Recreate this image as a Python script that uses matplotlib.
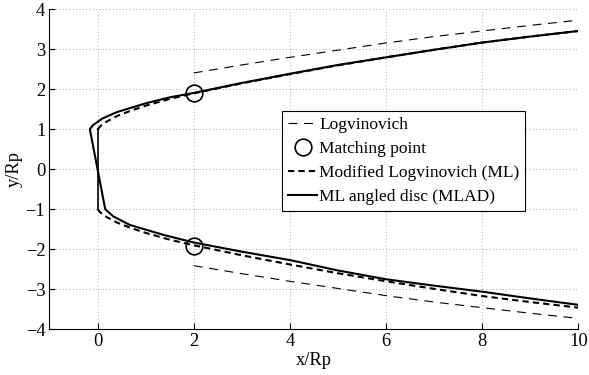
import numpy as np
import matplotlib.pyplot as plt

plt.rcParams['font.family'] = ['Liberation Serif', 'DejaVu Serif']
plt.rcParams['font.size'] = 13.3

# Logvinovich cavity profile (upper half, mirrored for lower)
x_logv = [2, 3, 4, 5, 6, 7, 8, 9, 10]
y_logv = [2.41, 2.61, 2.80, 2.98, 3.16, 3.32, 3.46, 3.60, 3.73]

# Modified Logvinovich (ML), symmetric, disc at x = 0
x_ml = [0, 0.1, 0.2, 0.4, 0.7, 1.0, 1.5, 2, 3, 4, 5, 6, 7, 8, 9, 10]
y_ml = [1.0, 1.13, 1.2, 1.33, 1.47, 1.59, 1.76, 1.9, 2.15, 2.38, 2.6, 2.80, 2.99, 3.17, 3.32, 3.46]

# ML angled disc (MLAD), upper and lower branches
x_mlad_up = [-0.16, -0.1, 0.1, 0.4, 1.0, 1.5, 2, 3, 4, 5, 6, 7, 8, 9, 10]
y_mlad_up = [1.0, 1.1, 1.27, 1.43, 1.65, 1.8, 1.91, 2.16, 2.39, 2.61, 2.80, 2.99, 3.17, 3.32, 3.46]
x_mlad_lo = [0.16, 0.33, 0.67, 1.37, 2, 3, 4, 5, 6, 7, 8, 9, 10]
y_mlad_lo = [-1.0, -1.18, -1.39, -1.64, -1.83, -2.06, -2.27, -2.53, -2.75, -2.91, -3.06, -3.23, -3.39]

# matching points
x_match = [2, 2]
y_match = [1.92, -1.92]

x_logv = np.array(x_logv); y_logv = np.array(y_logv)
x_ml = np.array(x_ml); y_ml = np.array(y_ml)

fig = plt.figure(figsize=(5.89, 3.75), dpi=100)
ax = fig.add_axes([0.084, 0.122, 0.898, 0.853])

ax.plot(x_logv, y_logv, 'k', ls=(0, (8, 6)), lw=0.8, label='Logvinovich')
ax.plot(x_logv, -y_logv, 'k', ls=(0, (8, 6)), lw=0.8)

ax.plot(x_match, y_match, 'o', ms=12, mfc='none', mec='k', mew=1.2,
        label='Matching point')

ax.plot(x_ml, y_ml, 'k', ls=(0, (3, 2)), lw=1.5, label='Modified Logvinovich (ML)')
ax.plot(x_ml, -y_ml, 'k', ls=(0, (3, 2)), lw=1.5)
ax.plot([0, 0], [-1, 1], 'k', lw=1.2)

x_mlad = np.concatenate([x_mlad_up[::-1], x_mlad_lo])
y_mlad = np.concatenate([y_mlad_up[::-1], y_mlad_lo])
ax.plot(x_mlad, y_mlad, 'k', lw=1.5, label='ML angled disc (MLAD)')

ax.set_xlim(-1, 10)
ax.set_ylim(-4, 4)
ax.set_xticks([0, 2, 4, 6, 8, 10])
ax.set_yticks(range(-4, 5))
ax.set_xlabel('x/Rp', labelpad=1)
ax.set_ylabel('y/Rp', labelpad=2)

ax.grid(True, ls=(0, (1, 3)), color='0.55', lw=0.6)
ax.spines['top'].set_visible(False)
ax.spines['right'].set_visible(False)
ax.tick_params(direction='in', length=4, width=0.8, pad=3)

leg = ax.legend(loc='upper left', bbox_to_anchor=(0.439, 0.682),
                fontsize=12.5, fancybox=False, edgecolor='k', framealpha=1,
                handlelength=1.7, handletextpad=0.1, labelspacing=0.45,
                borderpad=0.35, borderaxespad=0)
leg.get_frame().set_linewidth(0.8)

fig.savefig('out.png', dpi=100)
